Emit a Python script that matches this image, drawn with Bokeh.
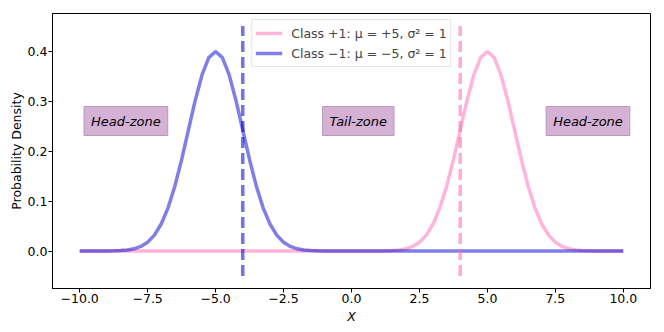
import numpy as np
from bokeh.plotting import figure
from bokeh.models import Range1d, CustomJSTickFormatter, FixedTicker, Legend, LegendItem
from bokeh.core.properties import value
from bokeh.embed import file_html
from bokeh.resources import INLINE

# ---- data ----
x_grid = np.arange(-10.0, 10.001, 0.25)

# Class -1 (mu=-5, var=1) density
y_neg = [0.0, 0.0, 0.0, 0.0, 0.0001, 0.0004, 0.0009, 0.0020, 0.0044, 0.0091,
         0.0175, 0.0317, 0.0540, 0.0863, 0.1295, 0.1826, 0.2420, 0.3011, 0.3521, 0.3867,
         0.3989, 0.3867, 0.3521, 0.3011, 0.2420, 0.1826, 0.1295, 0.0863, 0.0540, 0.0317,
         0.0175, 0.0091, 0.0044, 0.0020, 0.0009, 0.0004, 0.0001,
         0.0, 0.0, 0.0, 0.0, 0.0, 0.0, 0.0, 0.0, 0.0, 0.0, 0.0,
         0.0, 0.0, 0.0, 0.0, 0.0, 0.0, 0.0, 0.0, 0.0, 0.0, 0.0,
         0.0, 0.0, 0.0, 0.0, 0.0, 0.0, 0.0, 0.0, 0.0, 0.0, 0.0,
         0.0, 0.0, 0.0, 0.0, 0.0, 0.0, 0.0, 0.0, 0.0, 0.0, 0.0]

# Class +1 (mu=+5, var=1) density
y_pos = [0.0, 0.0, 0.0, 0.0, 0.0, 0.0, 0.0, 0.0, 0.0, 0.0, 0.0,
         0.0, 0.0, 0.0, 0.0, 0.0, 0.0, 0.0, 0.0, 0.0, 0.0, 0.0,
         0.0, 0.0, 0.0, 0.0, 0.0, 0.0, 0.0, 0.0, 0.0, 0.0, 0.0,
         0.0, 0.0, 0.0, 0.0, 0.0, 0.0, 0.0, 0.0, 0.0, 0.0, 0.0,
         0.0001, 0.0004, 0.0009, 0.0020, 0.0044, 0.0091, 0.0175, 0.0317, 0.0540, 0.0863,
         0.1295, 0.1826, 0.2420, 0.3011, 0.3521, 0.3867, 0.3989, 0.3867, 0.3521, 0.3011,
         0.2420, 0.1826, 0.1295, 0.0863, 0.0540, 0.0317, 0.0175, 0.0091, 0.0044, 0.0020,
         0.0009, 0.0004, 0.0001, 0.0, 0.0, 0.0, 0.0]

legend_labels = ["Class +1: \u03bc = +5, \u03c3\u00b2 = 1", "Class \u22121: \u03bc = \u22125, \u03c3\u00b2 = 1"]

thresholds = [-4.0, 4.0]
threshold_bottom = [-0.05, -0.05]
threshold_top = [0.45, 0.45]

zone_text = ["Head-zone", "Tail-zone", "Head-zone"]
zone_x = [-8.3, 0.25, 8.7]
zone_y = [0.26, 0.26, 0.26]

x_ticks = [-10.0, -7.5, -5.0, -2.5, 0.0, 2.5, 5.0, 7.5, 10.0]
y_ticks = [0.0, 0.1, 0.2, 0.3, 0.4]

PINK = "#ff69b4"
BLUE = "#0000cd"
FONT = "DejaVu Sans"
FS = "12.5px"

p = figure(width=664, height=332, x_range=Range1d(-11, 11), y_range=Range1d(-0.075, 0.475),
           output_backend="svg", toolbar_location=None,
           min_border_left=52, min_border_right=14, min_border_top=13, min_border_bottom=44)

p.xgrid.visible = False
p.ygrid.visible = False
p.outline_line_color = "black"
p.outline_line_width = 1
p.outline_line_alpha = 1.0

r_pos = p.line(x_grid, y_pos, line_color=PINK, line_alpha=0.5, line_width=3.5)
r_neg = p.line(x_grid, y_neg, line_color=BLUE, line_alpha=0.5, line_width=3.5)

p.segment(x0=thresholds, y0=threshold_bottom, x1=thresholds, y1=threshold_top,
          line_color=[BLUE, PINK], line_alpha=0.55, line_width=3.5, line_dash="11 5")

p.text(x=zone_x, y=zone_y, text=zone_text, text_align="center", text_baseline="middle",
       text_font=value(FONT), text_font_style="italic", text_font_size="13px", text_color="black",
       background_fill_color="#d6b1d6", border_line_color="#b79bb7", padding=7)

fmt = CustomJSTickFormatter(code="return tick.toFixed(1).replace('-', '\\u2212');")

for ax, ticks in ((p.xaxis[0], x_ticks), (p.yaxis[0], y_ticks)):
    ax.ticker = FixedTicker(ticks=ticks)
    ax.formatter = fmt
    ax.minor_tick_line_color = None
    ax.major_tick_in = 0
    ax.major_tick_out = 4
    ax.major_tick_line_color = "black"
    ax.axis_line_color = "black"
    ax.major_label_text_font = FONT
    ax.major_label_text_font_size = FS
    ax.major_label_text_color = "black"
    ax.axis_label_text_font = FONT
    ax.axis_label_text_font_size = FS
    ax.axis_label_text_color = "black"

p.xaxis.axis_label = "X"
p.xaxis.axis_label_text_font_style = "italic"
p.xaxis.major_label_standoff = 1
p.xaxis.axis_label_standoff = 3
p.yaxis.axis_label = "Probability Density"
p.yaxis.axis_label_text_font_style = "normal"
p.yaxis.major_label_standoff = 1
p.yaxis.axis_label_standoff = 1

legend = Legend(items=[LegendItem(label=legend_labels[0], renderers=[r_pos]),
                       LegendItem(label=legend_labels[1], renderers=[r_neg])],
                location="top_center")
legend.label_text_font = FONT
legend.label_text_font_size = FS
legend.glyph_width = 27
legend.glyph_height = 20
legend.label_height = 20
legend.label_standoff = 9
legend.padding = 3
legend.spacing = 0
legend.margin = 6
legend.border_line_color = "#cccccc"
legend.background_fill_alpha = 0.8
p.add_layout(legend)

open("out.html", "w").write(file_html(p, INLINE))
